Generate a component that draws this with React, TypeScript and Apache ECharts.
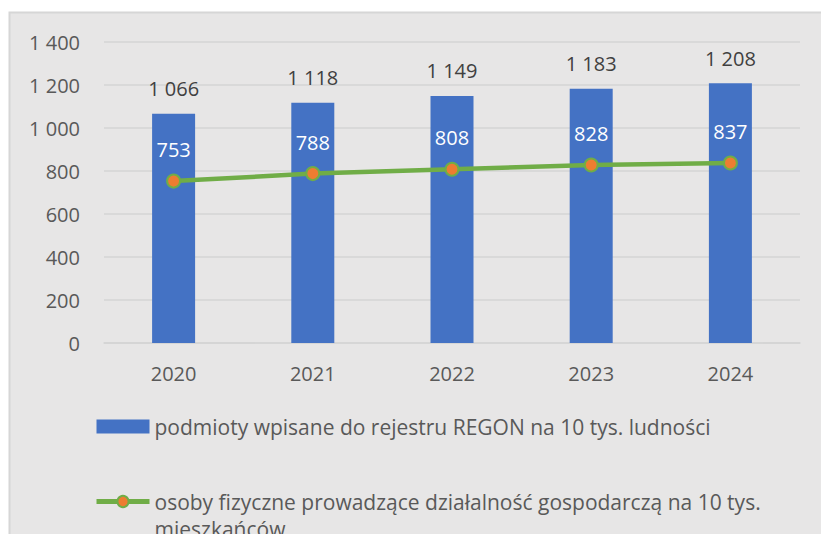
import React, { useEffect, useRef } from "react";
import * as echarts from "echarts";

const categories = ["2020", "2021", "2022", "2023", "2024"];
const barName = "podmioty wpisane do rejestru REGON na 10 tys. ludności";
const lineName = "osoby fizyczne prowadzące działalność gospodarczą na 10 tys. mieszkańców";
const barValues = [1066, 1118, 1149, 1183, 1208];
const lineValues = [753, 788, 808, 828, 837];
const yMin = 0;
const yMax = 1400;
const yInterval = 200;

const fmt = (v: number) => {
  const s = String(Math.round(v));
  return s.replace(/\B(?=(\d{3})+(?!\d))/g, " ");
};

const FONT = "'Open Sans', sans-serif";

export default function App() {
  const ref = useRef<HTMLDivElement>(null);
  useEffect(() => {
    if (!ref.current) return;
    const chart = echarts.init(ref.current, undefined, { renderer: "svg" });
    chart.setOption({
      animation: false,
      backgroundColor: "#ffffff",
      textStyle: { fontFamily: FONT },
      graphic: [
        {
          type: "rect",
          z: -10,
          silent: true,
          shape: { x: 9.5, y: 12.5, width: 830, height: 540 },
          style: { fill: "#E7E6E6", stroke: "#D6D6D6", lineWidth: 2 },
        },
      ],
      grid: { left: 104, right: 21, top: 42, bottom: 191, containLabel: false },
      xAxis: {
        type: "category",
        data: categories,
        axisLine: { show: true, lineStyle: { color: "#D4D4D4", width: 1.5 } },
        axisTick: { show: false },
        axisLabel: { color: "#595959", fontSize: 20, fontFamily: FONT, margin: 20 },
      },
      yAxis: {
        type: "value",
        min: yMin,
        max: yMax,
        interval: yInterval,
        axisLine: { show: false },
        axisTick: { show: false },
        splitLine: { lineStyle: { color: "#D4D4D4", width: 1.5 } },
        axisLabel: {
          color: "#595959",
          fontSize: 20,
          fontFamily: FONT,
          margin: 24,
          formatter: (v: number) => fmt(v),
        },
      },
      legend: {
        orient: "vertical",
        left: 89,
        top: 408,
        height: 300,
        itemWidth: 53,
        itemHeight: 14,
        itemGap: 21,
        textStyle: { color: "#595959", fontSize: 21, fontFamily: FONT, lineHeight: 27 },
        formatter: (name: string) =>
          name === lineName ? "\n" + name.replace(" mieszkańców", "\nmieszkańców") : name,
        data: [
          { name: barName, icon: "rect" },
          {
            name: lineName,
            lineStyle: { width: 5, color: "#70AD47" },
            itemStyle: { color: "#ED7D31", borderColor: "#70AD47", borderWidth: 2 },
          },
        ],
      },
      series: [
        {
          name: barName,
          type: "bar",
          data: barValues,
          barWidth: 43,
          itemStyle: { color: "#4472C4" },
          label: {
            show: true,
            position: "top",
            distance: 15,
            color: "#404040",
            fontSize: 20,
            fontFamily: FONT,
            formatter: (p: any) => fmt(p.value),
          },
        },
        {
          name: lineName,
          type: "line",
          data: lineValues,
          symbol: "circle",
          symbolSize: 13,
          lineStyle: { color: "#70AD47", width: 4.5 },
          itemStyle: { color: "#ED7D31", borderColor: "#70AD47", borderWidth: 2 },
          label: {
            show: true,
            position: "top",
            distance: 14,
            color: "#ffffff",
            fontSize: 20,
            fontFamily: FONT,
            formatter: (p: any) => fmt(p.value),
          },
        },
      ],
    });
    return () => chart.dispose();
  }, []);
  return (
    <div
      ref={ref}
      style={{ position: "fixed", left: 0, top: 0, width: 821, height: 534 }}
    />
  );
}
